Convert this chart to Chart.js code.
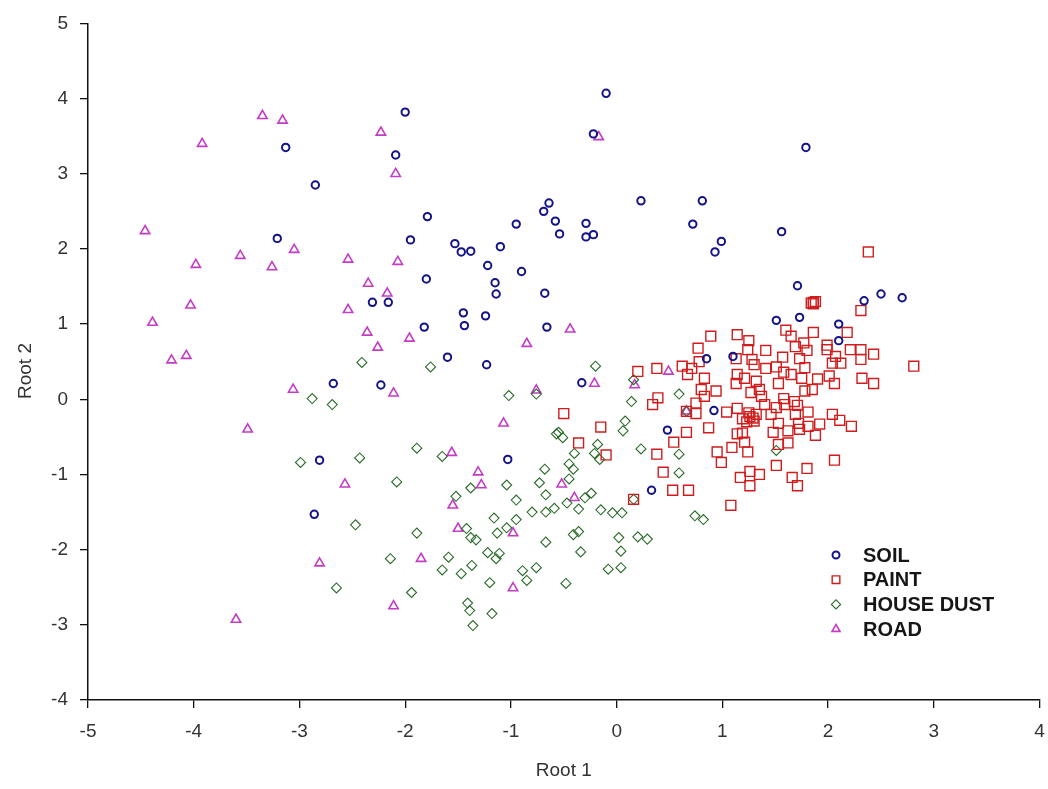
<!DOCTYPE html>
<html>
<head>
<meta charset="utf-8">
<script src="https://cdn.jsdelivr.net/npm/chart.js@4.4.0/dist/chart.umd.min.js"></script>
<style>
  html, body { margin: 0; padding: 0; background: #ffffff; }
  #wrap { width: 1048px; height: 789px; }
</style>
</head>
<body>
<div id="wrap"><canvas id="c" width="1048" height="789"></canvas></div>
<script>
// ---- data: [Root 1, Root 2] ----
const soil = [
  [-0.10,4.07],[-2.00,3.82],[-3.13,3.35],[-0.22,3.53],[-2.09,3.25],[-2.85,2.85],
  [1.79,3.35],[-3.21,2.14],[0.23,2.64],[0.81,2.64],[0.72,2.33],[0.99,2.10],
  [0.93,1.96],[1.56,2.23],[-1.79,2.43],[-1.95,2.12],[-1.53,2.07],[-1.47,1.96],
  [-1.38,1.97],[-1.10,2.03],[-0.95,2.33],[-0.64,2.61],[-0.69,2.50],[-0.58,2.37],
  [-0.54,2.20],[-0.29,2.34],[-0.29,2.16],[-0.22,2.19],[-1.22,1.78],[-1.15,1.55],
  [-1.14,1.40],[-1.24,1.11],[-1.45,1.15],[-1.44,0.98],[-0.68,1.41],[-0.66,0.96],
  [-0.90,1.70],[-1.80,1.60],[-1.82,0.96],[-2.31,1.29],[-2.16,1.29],[-2.68,0.21],
  [-2.23,0.19],[-2.81,-0.81],[-2.86,-1.53],[-1.60,0.56],[-1.23,0.46],[-0.33,0.22],
  [-1.03,-0.80],[0.48,-0.41],[0.33,-1.21],[0.92,-0.15],[0.85,0.54],[1.10,0.57],
  [1.51,1.05],[1.71,1.51],[1.73,1.09],[2.10,1.00],[2.10,0.78],[2.34,1.31],
  [2.50,1.40],[2.70,1.35]
];
const paint = [
  [0.89,0.84],[1.14,0.86],[1.25,0.78],[0.77,0.68],[1.24,0.66],[1.41,0.65],[1.57,0.56],
  [1.60,0.92],[1.13,0.54],[1.28,0.53],[0.62,0.44],[0.38,0.41],[0.20,0.37],[0.71,0.41],
  [0.78,0.50],[0.67,0.33],[0.83,0.28],[1.30,0.46],[1.41,0.41],[1.51,0.43],[1.58,0.36],
  [1.14,0.33],[1.21,0.28],[1.13,0.21],[1.32,0.24],[1.53,0.21],[1.35,0.13],[1.27,0.09],
  [0.80,0.13],[0.94,0.11],[0.83,0.04],[0.39,0.02],[0.34,-0.07],[0.75,-0.05],[1.37,0.04],
  [1.40,-0.07],[1.58,0.01],[1.51,-0.11],[0.75,-0.19],[1.04,-0.17],[1.14,-0.12],[1.26,-0.23],
  [1.30,-0.29],[1.19,-0.26],[1.46,-0.20],[1.53,-0.32],[0.87,-0.38],[0.66,-0.44],[0.54,-0.57],
  [1.14,-0.46],[1.19,-0.45],[1.21,-0.57],[1.48,-0.44],[1.53,-0.60],[1.09,-0.64],[0.95,-0.70],
  [1.24,-0.70],[0.38,-0.73],[0.99,-0.84],[1.51,-0.88],[0.44,-0.97],[1.26,-0.96],[1.17,-1.04],
  [1.35,-1.00],[1.26,-1.15],[0.53,-1.21],[0.68,-1.21],[1.25,-0.18],[1.29,-0.25],[1.23,-0.30],
  [1.32,-0.20],[1.84,1.28],[1.88,1.30],[1.86,1.27],[2.38,1.96],[2.31,1.18],[1.86,1.29],
  [2.18,0.89],[1.86,0.89],[1.65,0.84],[1.69,0.70],[1.77,0.75],[1.80,0.65],[1.99,0.72],
  [1.99,0.66],[2.21,0.66],[2.31,0.66],[2.43,0.60],[2.07,0.57],[2.31,0.53],[2.04,0.48],
  [2.12,0.48],[1.73,0.54],[1.78,0.42],[2.81,0.44],[1.65,0.33],[1.75,0.28],[1.90,0.27],
  [2.01,0.31],[2.06,0.21],[2.32,0.28],[2.43,0.21],[1.78,0.11],[1.85,0.13],[1.59,-0.07],
  [1.68,-0.03],[1.71,-0.08],[1.69,-0.20],[1.81,-0.17],[2.04,-0.20],[2.11,-0.28],[2.22,-0.36],
  [1.72,-0.32],[1.73,-0.40],[1.81,-0.36],[1.92,-0.33],[1.62,-0.42],[1.88,-0.48],[1.62,-0.58],
  [2.06,-0.81],[1.80,-0.92],[1.66,-1.04],[1.71,-1.15],[-0.50,-0.19],[-0.15,-0.37],
  [-0.36,-0.58],[-0.10,-0.74],[0.16,-1.33],[1.08,-1.41],[0.66,-0.16]
];
const houseDust = [
  [-0.20,0.44],[-1.02,0.05],[-0.76,0.07],[0.14,-0.03],[0.59,0.07],[0.08,-0.29],[0.06,-0.42],
  [-0.57,-0.46],[-0.55,-0.44],[-0.51,-0.51],[-0.18,-0.60],[-0.21,-0.72],[0.23,-0.66],[0.59,-0.73],
  [-0.16,-0.80],[-0.40,-0.72],[-0.45,-0.86],[-0.41,-0.93],[0.59,-0.98],[-0.68,-0.93],[-0.73,-1.11],
  [-0.45,-1.06],[-1.04,-1.14],[-0.67,-1.27],[-0.95,-1.34],[-0.47,-1.38],[-0.24,-1.25],[-0.30,-1.31],
  [-0.80,-1.50],[-0.67,-1.50],[-0.59,-1.45],[-0.36,-1.46],[-0.15,-1.47],[-0.04,-1.51],[0.05,-1.51],
  [0.74,-1.55],[0.82,-1.60],[-1.16,-1.58],[-0.95,-1.60],[-1.04,-1.71],[-1.13,-1.78],[-0.41,-1.80],
  [-0.36,-1.76],[0.02,-1.84],[0.20,-1.83],[0.29,-1.86],[-0.67,-1.90],[0.04,-2.02],[-0.34,-2.03],
  [-1.22,-2.04],[-1.11,-2.05],[-1.14,-2.12],[-0.89,-2.28],[-0.76,-2.24],[-0.08,-2.26],[0.04,-2.24],
  [-0.85,-2.41],[-1.20,-2.44],[-0.48,-2.45],[0.16,0.26],[0.66,-0.16],[1.51,-0.68],[0.16,-1.33],
  [-2.41,0.49],[-1.76,0.43],[-2.88,0.01],[-2.69,-0.07],[-2.99,-0.84],[-2.43,-0.78],[-1.89,-0.65],
  [-1.65,-0.76],[-2.08,-1.10],[-1.38,-1.18],[-1.52,-1.29],[-2.47,-1.67],[-1.89,-1.78],[-1.42,-1.72],
  [-1.38,-1.84],[-1.33,-1.87],[-2.14,-2.12],[-1.59,-2.10],[-1.65,-2.27],[-1.47,-2.32],[-1.37,-2.21],
  [-2.65,-2.51],[-1.94,-2.57],[-1.41,-2.71],[-1.39,-2.81],[-1.36,-3.01],[-1.18,-2.85]
];
const road = [
  [-3.35,3.77],[-3.16,3.71],[-3.92,3.40],[-2.23,3.55],[-2.09,3.00],[-0.17,3.49],[-4.46,2.24],
  [-3.98,1.79],[-3.56,1.91],[-3.26,1.76],[-3.05,1.99],[-2.54,1.86],[-2.07,1.83],[-2.35,1.54],
  [-2.17,1.41],[-2.54,1.19],[-4.03,1.25],[-4.39,1.02],[-4.21,0.52],[-4.07,0.58],[-2.36,0.89],
  [-2.26,0.69],[-1.96,0.81],[-3.06,0.13],[-2.11,0.08],[-3.49,-0.40],[-1.56,-0.71],[-2.57,-1.13],
  [-1.31,-0.97],[-1.28,-1.14],[-1.55,-1.41],[-1.50,-1.72],[-2.81,-2.18],[-1.85,-2.12],[-2.11,-2.75],
  [-0.85,0.74],[-0.21,0.21],[-0.76,0.12],[0.49,0.37],[0.17,0.19],[-1.07,-0.32],[-0.52,-1.13],
  [-0.40,-1.31],[-0.98,-1.78],[-0.98,-2.51],[-0.44,0.93],[-3.60,-2.93],[0.66,-0.16]
];
const seriesNames = ['SOIL', 'PAINT', 'HOUSE DUST', 'ROAD'];
const xTicks = [-5,-4,-3,-2,-1,0,1,2,3,4];
const yTicks = [-4,-3,-2,-1,0,1,2,3,4,5];
const xTitle = 'Root 1';
const yTitle = 'Root 2';

// ---- styles ----
const styles = [
  { color: '#141488', pointStyle: 'circle',   radius: 3.7, borderWidth: 2.0 },
  { color: '#d01c1c', pointStyle: 'rect',     radius: 7.0, borderWidth: 1.4 },
  { color: '#2a6b2a', pointStyle: 'rectRot',  radius: 5.0, borderWidth: 1.1 },
  { color: '#c43cc4', pointStyle: 'triangle', radius: 5.4, borderWidth: 1.6 }
];
const FONT = '"Liberation Sans", Arial, sans-serif';
const toPts = arr => arr.map(p => ({ x: p[0], y: p[1] }));
const allSeries = [soil, paint, houseDust, road];

const datasets = allSeries.map((s, i) => ({
  label: seriesNames[i],
  data: toPts(s),
  pointStyle: styles[i].pointStyle,
  pointRadius: styles[i].radius,
  pointHoverRadius: styles[i].radius,
  pointBorderWidth: styles[i].borderWidth,
  borderColor: styles[i].color,
  pointBorderColor: styles[i].color,
  backgroundColor: 'rgba(0,0,0,0)',
  pointBackgroundColor: 'rgba(0,0,0,0)',
  showLine: false
}));

const legendPlugin = {
  id: 'insideLegend',
  afterDraw(chart) {
    const ctx = chart.ctx;
    const mx = 836, tx = 863, y0 = 555, dy = 24.7;
    ctx.save();
    seriesNames.forEach((name, i) => {
      const st = styles[i];
      const y = y0 + i * dy;
      ctx.fillStyle = 'rgba(0,0,0,0)';
      ctx.strokeStyle = st.color;
      ctx.lineWidth = st.borderWidth;
      const r = st.pointStyle === 'rect' ? 5.4 : (st.pointStyle === 'circle' ? 3.5 : 4.6);
      if (Chart.helpers && Chart.helpers.drawPoint) {
        Chart.helpers.drawPoint(ctx, { pointStyle: st.pointStyle, radius: r, borderWidth: st.borderWidth, rotation: 0 }, mx, y);
      }
      ctx.fillStyle = '#161616';
      ctx.font = 'bold 20px ' + FONT;
      ctx.textAlign = 'left';
      ctx.textBaseline = 'middle';
      ctx.fillText(name, tx, y + 1);
    });
    // y-axis title, placed as in the reference (slightly below the axis centre)
    ctx.save();
    ctx.translate(26, 371);
    ctx.rotate(-Math.PI / 2);
    ctx.fillStyle = '#333333';
    ctx.font = '19px ' + FONT;
    ctx.textAlign = 'center';
    ctx.textBaseline = 'middle';
    ctx.fillText(yTitle, 0, 0);
    ctx.restore();
    ctx.restore();
  }
};

const tickFont = { family: FONT, size: 19 };
new Chart(document.getElementById('c'), {
  type: 'scatter',
  data: { datasets },
  options: {
    responsive: false,
    animation: false,
    devicePixelRatio: 1,
    layout: { padding: { top: 21, right: 7, left: 0, bottom: 0 } },
    plugins: { legend: { display: false }, tooltip: { enabled: false } },
    scales: {
      x: {
        type: 'linear', min: xTicks[0], max: xTicks[xTicks.length - 1],
        afterBuildTicks: s => { s.ticks = xTicks.map(v => ({ value: v })); },
        afterFit: s => { s.height = 89; s.paddingRight = 0; s.paddingLeft = 0; },
        ticks: { font: tickFont, color: '#333333', padding: 12 },
        grid: { display: true, drawOnChartArea: false, drawTicks: true, tickLength: 8, color: '#111111', lineWidth: 1.3 },
        border: { display: true, color: '#111111', width: 1.5 },
        title: { display: true, text: xTitle, font: { family: FONT, size: 19 }, color: '#333333', padding: { top: 0, bottom: 7 } }
      },
      y: {
        type: 'linear', min: yTicks[0], max: yTicks[yTicks.length - 1],
        afterBuildTicks: s => { s.ticks = yTicks.map(v => ({ value: v })); },
        afterFit: s => { s.width = 88; },
        ticks: { font: tickFont, color: '#333333', padding: 12 },
        grid: { display: true, drawOnChartArea: false, drawTicks: true, tickLength: 8, color: '#111111', lineWidth: 1.3 },
        border: { display: true, color: '#111111', width: 1.5 },
        title: { display: false }
      }
    }
  },
  plugins: [legendPlugin]
});
</script>
</body>
</html>
